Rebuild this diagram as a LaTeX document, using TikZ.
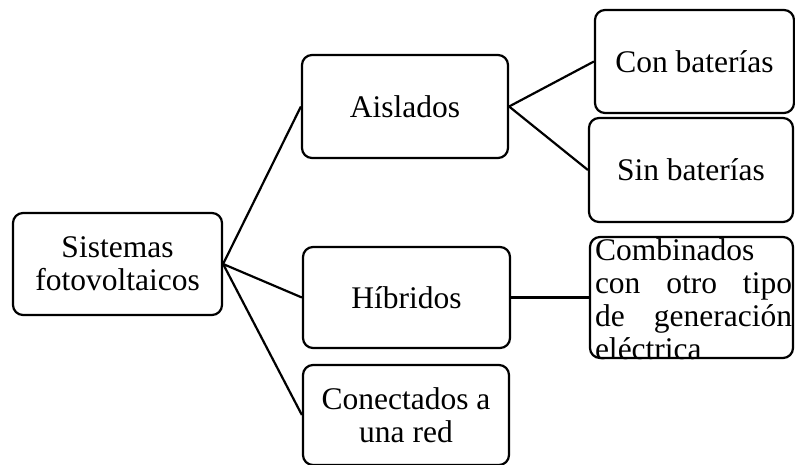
\documentclass[tikz,border=0pt]{standalone}
\usepackage{fontspec}
\setmainfont{Liberation Serif}
\begin{document}
\begin{tikzpicture}[x=1pt,y=-1pt,
  box/.style={draw=black,line width=2.2pt,rounded corners=10pt,inner sep=0pt,align=center},
  conn/.style={draw=black,line width=2.2pt},
  every node/.style={font=\fontsize{31.5}{33}\selectfont}]
\useasboundingbox (0,0) rectangle (795,464);
\node[box,minimum width=209pt,minimum height=102pt] (sis) at (117.5,264) {Sistemas\\fotovoltaicos};
\node[box,minimum width=206pt,minimum height=103pt] (ais) at (405,106.5) {Aislados};
\node[box,minimum width=207pt,minimum height=101pt] (hib) at (406.5,297.5) {Híbridos};
\node[box,minimum width=206pt,minimum height=100pt] (con) at (406,415) {Conectados a\\una red};
\node[box,minimum width=199pt,minimum height=103pt] (conbat) at (694.5,61.5) {Con baterías};
\node[box,minimum width=204pt,minimum height=104pt] (sinbat) at (691,170) {Sin baterías};
\node[box,minimum width=203pt,minimum height=121pt] (comb) at (691.5,297.5) {};
\node[inner sep=0pt,text width=197pt,align=left] (combt) at (693.5,299)
  {Combinados\\\makebox[197pt][l]{con\hfill otro\hfill tipo}\\\makebox[197pt][l]{de\hfill generación}\\eléctrica};
\draw[conn] (sis.east) -- (ais.west);
\draw[conn] (sis.east) -- (hib.west);
\draw[conn] (sis.east) -- (con.west);
\draw[conn] (ais.east) -- (conbat.west);
\draw[conn] (ais.east) -- (sinbat.west);
\draw[conn] (hib.east) -- (comb.west);
\end{tikzpicture}
\end{document}
